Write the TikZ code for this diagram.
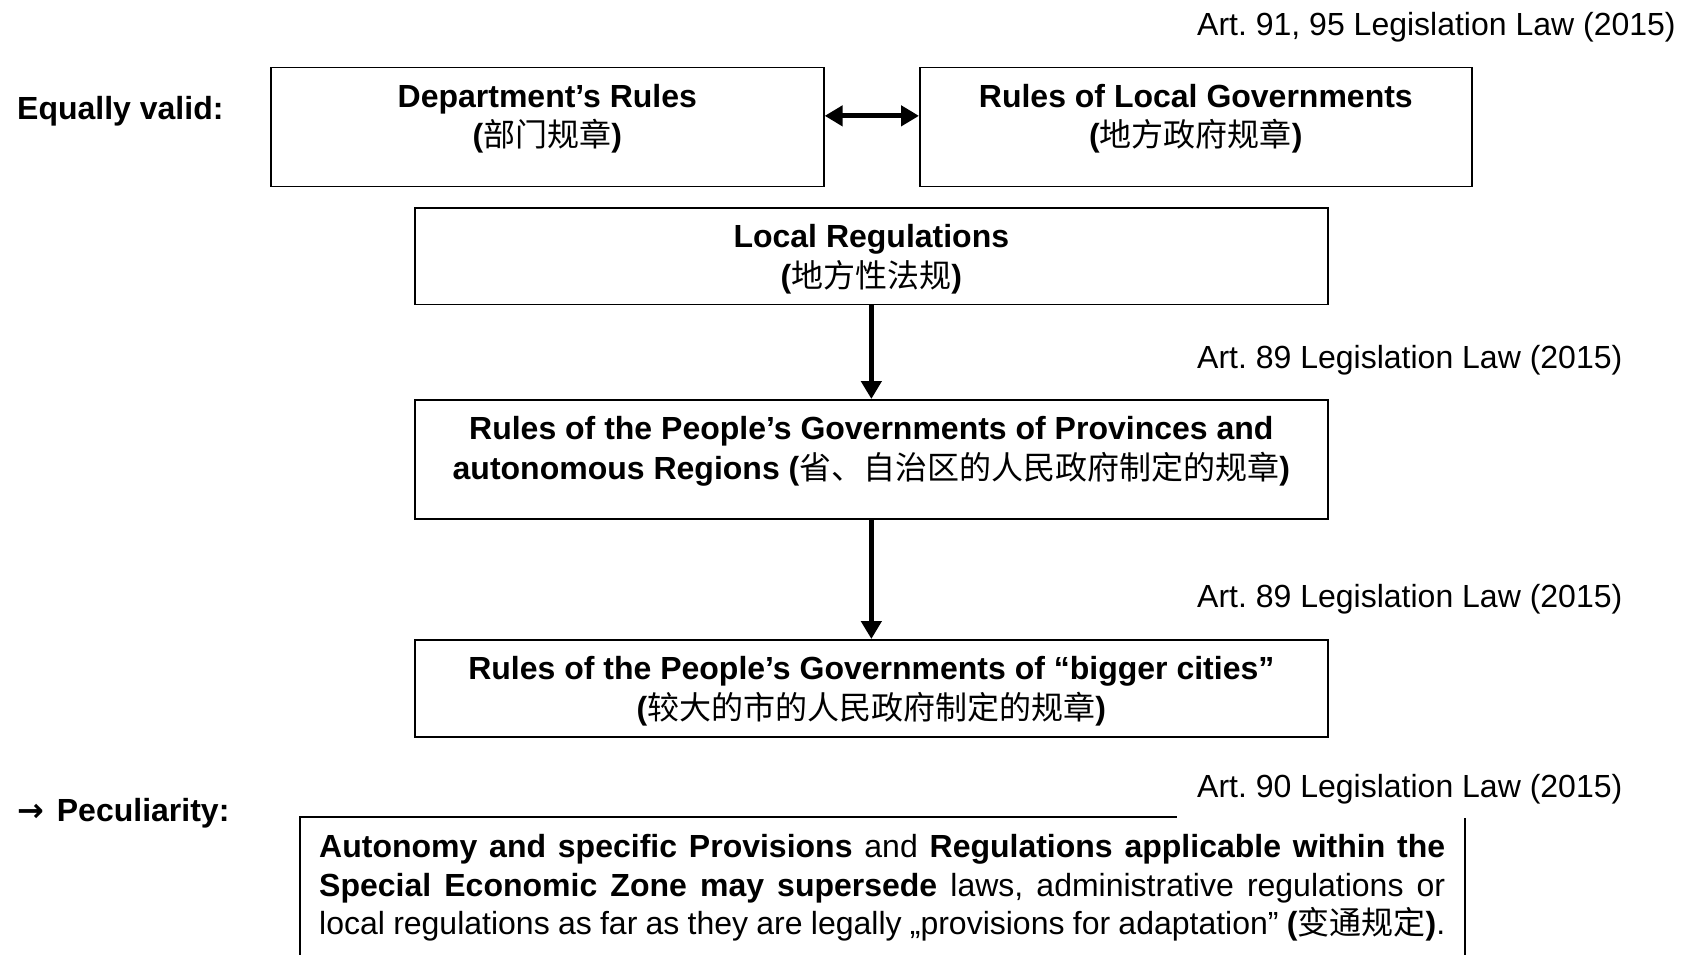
\documentclass[tikz,border=0pt]{standalone}
\usepackage{fontspec}
\setmainfont{Liberation Sans}
\newfontfamily\cjk{Noto Sans CJK SC}
\newfontfamily\arrowfont{DejaVu Sans}
\usetikzlibrary{arrows.meta}
\frenchspacing
\begin{document}
\begin{tikzpicture}[x=1pt,y=-1pt,
  box/.style={draw, line width=1.7pt, inner sep=0pt, anchor=north west},
  txt/.style={inner sep=0pt, anchor=base, font=\fontsize{32}{39.5}\selectfont\bfseries},
  reflab/.style={inner sep=0pt, anchor=base west, font=\fontsize{32}{39.5}\selectfont},
  sidelab/.style={inner sep=0pt, anchor=base west, font=\fontsize{32}{39.5}\selectfont\bfseries},
  arr/.style={line width=4.5pt, -{Triangle[length=18pt,width=20pt]}},
  dblarr/.style={line width=5pt, {Triangle[length=18pt,width=20pt]}-{Triangle[length=18pt,width=20pt]}},
]
\useasboundingbox (0,0) rectangle (1682,954);
\clip (0,0) rectangle (1682,954);

% boxes
\node[box, minimum width=553pt, minimum height=119pt] (b1) at (270,66.5) {};
\node[box, minimum width=552pt, minimum height=119pt] (b2) at (919,66.5) {};
\node[box, minimum width=913pt, minimum height=96.6pt] (b3) at (414,207) {};
\node[box, minimum width=913pt, minimum height=119pt] (b4) at (414,399) {};
\node[box, minimum width=913pt, minimum height=97pt] (b5) at (414,639) {};
\node[box, minimum width=1165pt, minimum height=200pt] (b6) at (299,816) {};

% box texts
\node[txt] (t1a) at ([yshift=-40.5pt]b1.north) {Department’s Rules};
\node[txt] (t1b) at ([yshift=-80pt]b1.north) {({\cjk\mdseries 部门规章})};
\node[txt] (t2a) at ([yshift=-40.5pt]b2.north) {Rules of Local Governments};
\node[txt] (t2b) at ([yshift=-80pt]b2.north) {({\cjk\mdseries 地方政府规章})};
\node[txt] (t3a) at ([yshift=-40.5pt]b3.north) {Local Regulations};
\node[txt] (t3b) at ([yshift=-80pt]b3.north) {({\cjk\mdseries 地方性法规})};
\node[txt] (t4a) at ([yshift=-40.5pt]b4.north) {Rules of the People’s Governments of Provinces and};
\node[txt] (t4b) at ([yshift=-80pt]b4.north) {autonomous Regions ({\cjk\mdseries 省、自治区的人民政府制定的规章})};
\node[txt] (t5a) at ([yshift=-40.5pt]b5.north) {Rules of the People’s Governments of “bigger cities”};
\node[txt] (t5b) at ([yshift=-80pt]b5.north) {({\cjk\mdseries 较大的市的人民政府制定的规章})};

\node[inner sep=0pt, anchor=north west, text width=1126pt, align=justify,
      font=\fontsize{32}{38.5}\selectfont] (p6) at (319,834.5)
 {\textbf{Autonomy and specific Provisions} and \textbf{Regulations applicable within the}\linebreak
  \textbf{Special Economic Zone may supersede} laws, administrative regulations or\linebreak
  local regulations as far as they are legally „provisions for adaptation” \textbf{(}{\cjk 变通规定}\textbf{)}.};

% side labels
\node[sidelab] (eq) at (17,119.5) {Equally valid:};
\node[sidelab] (pec) at (17,821.5) {{\arrowfont\bfseries →}\hspace{4pt} Peculiarity:};

% reference labels
\node[reflab] (r1) at (1197,35.5) {Art. 91, 95 Legislation Law (2015)};
\node[reflab] (r2) at (1197,368.5) {Art. 89 Legislation Law (2015)};
\node[reflab] (r3) at (1197,607.5) {Art. 89 Legislation Law (2015)};
\node[reflab, fill=white, inner xsep=20pt, text depth=20pt] (r4) at (1177,797.5) {Art. 90 Legislation Law (2015)};

% connectors
\draw[dblarr] ([yshift=11pt]b1.east) -- ([yshift=11pt]b2.west);
\draw[arr] (b3.south) -- (b4.north);
\draw[arr] (b4.south) -- (b5.north);
\end{tikzpicture}
\end{document}
